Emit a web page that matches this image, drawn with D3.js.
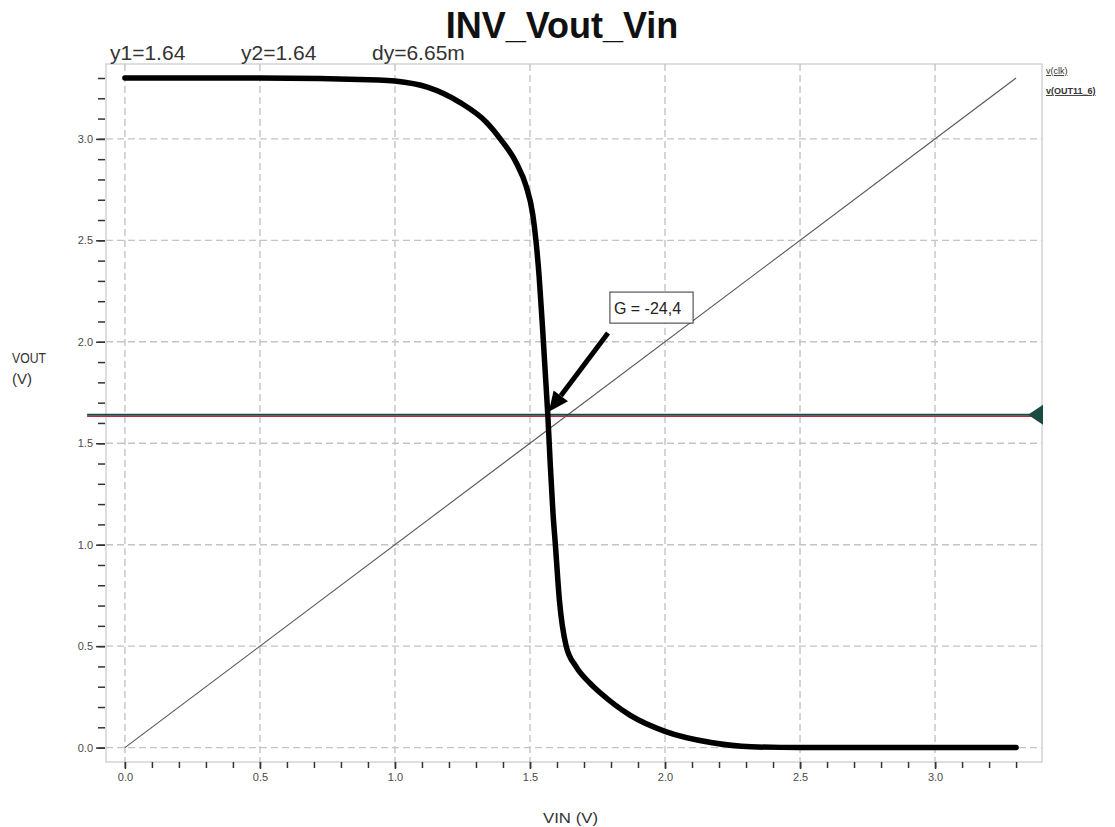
<!DOCTYPE html>
<html>
<head>
<meta charset="utf-8">
<title>INV_Vout_Vin</title>
<script src="https://d3js.org/d3.v7.min.js"></script>
<style>
  body { margin: 0; background: #fff; }
  text { font-family: "Liberation Sans", Arial, sans-serif; }
</style>
</head>
<body>
<div id="chart"></div>
<script>
// transfer curve of the inverter
let vin  = [0, 0.5, 0.94, 1.0, 1.12, 1.24, 1.34, 1.39, 1.45, 1.485, 1.51, 1.522, 1.534, 1.546, 1.556, 1.566, 1.575, 1.585, 1.594, 1.609, 1.634, 1.67, 1.72, 1.76, 1.87, 2.0, 2.17, 2.32, 2.5, 3.3];
let vout = [3.3, 3.3, 3.29, 3.285, 3.255, 3.18, 3.08, 3.0, 2.88, 2.77, 2.63, 2.5, 2.32, 2.08, 1.86, 1.64, 1.40, 1.16, 1.0, 0.726, 0.5, 0.40, 0.32, 0.27, 0.16, 0.08, 0.025, 0.004, 0.0, 0.0];
// v(clk) is just the input ramp
let clk = [0, 3.3];

let majorTicks = [0, 0.5, 1.0, 1.5, 2.0, 2.5, 3.0];
let minorTicks = d3.range(0, 34).map(i => i / 10);

let cursorY = 1.64;
let cursorLabels = ['y1=1.64', 'y2=1.64', 'dy=6.65m'];
let legendNames = ['v(clk)', 'v(OUT11_6)'];
let gain = {text: 'G = -24,4', x0: 1.796, x1: 2.104, y0: 2.092, y1: 2.245, tailX: 1.789, tailY: 2.043};

let svgw = 1115, svgh = 827;
let frame = {izq: 106, der: 1042, sup: 64, inf: 762};

let svg = d3.select('#chart').append('svg')
  .attr('width', svgw)
  .attr('height', svgh);

let x = d3.scaleLinear().domain([-0.07, 3.396]).range([frame.izq, frame.der]);
let y = d3.scaleLinear().domain([-0.071, 3.369]).range([frame.inf, frame.sup]);

// frame
svg.append('rect')
  .attr('x', frame.izq).attr('y', frame.sup)
  .attr('width', frame.der - frame.izq).attr('height', frame.inf - frame.sup)
  .attr('fill', 'none').attr('stroke', '#d4d4d4').attr('stroke-width', 1.5);

// dashed grid
let grid = svg.append('g').attr('stroke', '#c4c4c4').attr('stroke-width', 1.4).attr('stroke-dasharray', '7,4');
grid.selectAll('line.v').data(majorTicks).enter().append('line')
  .attr('x1', d => x(d)).attr('x2', d => x(d))
  .attr('y1', frame.sup).attr('y2', frame.inf);
grid.selectAll('line.h').data(majorTicks).enter().append('line')
  .attr('x1', frame.izq).attr('x2', frame.der)
  .attr('y1', d => y(d)).attr('y2', d => y(d));

// axes: minor ticks without labels, then majors with labels
function styleAxis(g) {
  g.select('.domain').remove();
  g.selectAll('line').attr('stroke', '#333').attr('stroke-width', 1.5);
  g.selectAll('text').attr('fill', '#4a4a4a').attr('font-size', 11).attr('font-family', '"Liberation Sans", Arial, sans-serif');
}

svg.append('g')
  .attr('transform', `translate(0, ${frame.inf})`)
  .call(d3.axisBottom(x).tickValues(minorTicks).tickSize(6).tickFormat(''))
  .call(styleAxis);
svg.append('g')
  .attr('transform', `translate(0, ${frame.inf})`)
  .call(d3.axisBottom(x).tickValues(majorTicks).tickSize(7).tickPadding(4).tickFormat(d3.format('.1f')))
  .call(styleAxis);

svg.append('g')
  .attr('transform', `translate(${frame.izq - 1}, 0)`)
  .call(d3.axisLeft(y).tickValues(minorTicks).tickSize(7).tickFormat(''))
  .call(styleAxis);
svg.append('g')
  .attr('transform', `translate(${frame.izq - 1}, 0)`)
  .call(d3.axisLeft(y).tickValues(majorTicks).tickSize(9).tickPadding(3).tickFormat(d3.format('.1f')))
  .call(styleAxis);

// v(clk) diagonal
svg.append('path')
  .datum(clk)
  .attr('d', d3.line().x(d => x(d)).y(d => y(d)))
  .attr('fill', 'none').attr('stroke', '#555').attr('stroke-width', 1.1);

// cursor line at y1 = y2
svg.append('line')
  .attr('x1', x(-0.14)).attr('x2', frame.der)
  .attr('y1', y(cursorY) + 1.5).attr('y2', y(cursorY) + 1.5)
  .attr('stroke', '#c0284a').attr('stroke-width', 1.2);
svg.append('line')
  .attr('x1', x(-0.14)).attr('x2', frame.der)
  .attr('y1', y(cursorY)).attr('y2', y(cursorY))
  .attr('stroke', '#1f4a44').attr('stroke-width', 2);
svg.append('path')
  .attr('d', `M${frame.der - 14},${y(cursorY)} L${frame.der + 1},${y(cursorY) - 10} L${frame.der + 1},${y(cursorY) + 10} Z`)
  .attr('fill', '#1a4a42');

// v(OUT11_6)
let pts = vin.map((v, i) => [v, vout[i]]);
svg.append('path')
  .datum(pts)
  .attr('d', d3.line().x(d => x(d[0])).y(d => y(d[1])).curve(d3.curveMonotoneX))
  .attr('fill', 'none').attr('stroke', '#000').attr('stroke-width', 5.5)
  .attr('stroke-linecap', 'round').attr('stroke-linejoin', 'round');

// gain annotation
svg.append('rect')
  .attr('x', x(gain.x0)).attr('y', y(gain.y1))
  .attr('width', x(gain.x1) - x(gain.x0)).attr('height', y(gain.y0) - y(gain.y1))
  .attr('fill', '#fff').attr('stroke', '#333').attr('stroke-width', 1);
svg.append('text')
  .attr('x', x(gain.x0) + 4).attr('y', y((gain.y0 + gain.y1) / 2) + 6)
  .attr('font-size', 16).attr('fill', '#222')
  .text(gain.text);

let tip = [x(vin[15]) + 1, y(cursorY) - 3];
let tail = [x(gain.tailX), y(gain.tailY)];
let ang = Math.atan2(tip[1] - tail[1], tip[0] - tail[0]);
let headLen = 20, headW = 9;
let base = [tip[0] - headLen * Math.cos(ang), tip[1] - headLen * Math.sin(ang)];
svg.append('line')
  .attr('x1', tail[0]).attr('y1', tail[1]).attr('x2', base[0]).attr('y2', base[1])
  .attr('stroke', '#000').attr('stroke-width', 5);
svg.append('path')
  .attr('d', `M${tip[0]},${tip[1]} L${base[0] + headW * Math.sin(ang)},${base[1] - headW * Math.cos(ang)} L${base[0] - headW * Math.sin(ang)},${base[1] + headW * Math.cos(ang)} Z`)
  .attr('fill', '#000');

// title and cursor readouts
svg.append('text')
  .attr('x', 562).attr('y', 38)
  .attr('text-anchor', 'middle').attr('font-size', 36).attr('font-weight', 'bold').attr('fill', '#111')
  .text('INV_Vout_Vin');

svg.selectAll('text.cur').data(cursorLabels).enter().append('text')
  .attr('x', (d, i) => 110 + i * 131).attr('y', 60)
  .attr('font-size', 21).attr('fill', '#333')
  .text(d => d);

// legend
svg.selectAll('text.leg').data(legendNames).enter().append('text')
  .attr('x', frame.der + 4).attr('y', (d, i) => 74 + i * 20)
  .attr('font-size', 9).attr('font-weight', (d, i) => i ? 'bold' : 'normal')
  .attr('fill', '#333').attr('text-decoration', 'underline')
  .text(d => d);

// axis titles
svg.append('text').attr('x', 12).attr('y', 363).attr('font-size', 15).attr('fill', '#333')
  .attr('textLength', 34).attr('lengthAdjust', 'spacingAndGlyphs').text('VOUT');
svg.append('text').attr('x', 12).attr('y', 384).attr('font-size', 15).attr('fill', '#333').text('(V)');
svg.append('text').attr('x', 543).attr('y', 823).attr('font-size', 14).attr('fill', '#333')
  .attr('textLength', 55).attr('lengthAdjust', 'spacingAndGlyphs').text('VIN (V)');
</script>
</body>
</html>
